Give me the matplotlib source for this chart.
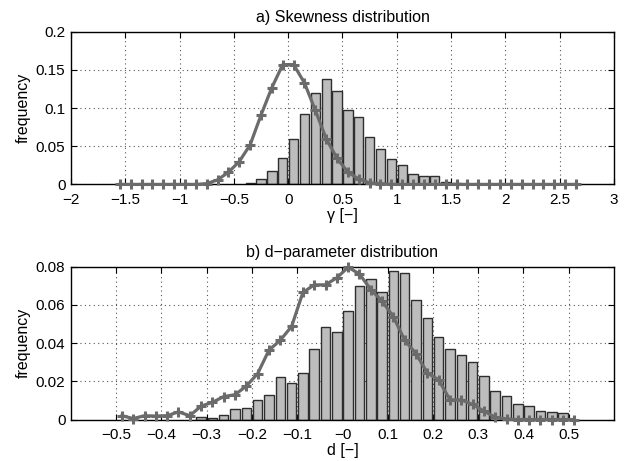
import matplotlib
matplotlib.use('Agg')
import matplotlib.pyplot as plt
import numpy as np
from matplotlib.ticker import FuncFormatter

plt.rcParams['font.family'] = ['Liberation Sans', 'DejaVu Sans']
plt.rcParams['font.size'] = 11

# a) skewness
skew_bar_x = [-0.35, -0.25, -0.15, -0.05, 0.05, 0.15, 0.25, 0.35, 0.45, 0.55,
              0.65, 0.75, 0.85, 0.95, 1.05, 1.15, 1.25, 1.35, 1.45, 1.55]
skew_bar_y = [0.002, 0.0066, 0.018, 0.0345, 0.0595, 0.092, 0.120, 0.138, 0.122, 0.098,
              0.088, 0.0625, 0.047, 0.033, 0.025, 0.013, 0.0114, 0.0114, 0.0026, 0.002]
skew_line_x = [round(-1.55 + 0.1 * i, 2) for i in range(43)]
skew_line_y = [0, 0, 0, 0, 0, 0, 0, 0,
               0.001, 0.006, 0.016, 0.030, 0.052, 0.091, 0.127, 0.157, 0.157,
               0.133, 0.097, 0.060, 0.034, 0.016, 0.007, 0.002, 0.001,
               0, 0, 0, 0, 0, 0, 0, 0, 0, 0, 0, 0, 0, 0, 0, 0, 0, 0]

# b) d-parameter
d_bar_x = [round(-0.3125 + 0.025 * i, 4) for i in range(33)]
d_bar_y = [0.0014, 0.0010, 0.0023, 0.0056, 0.0059, 0.0102, 0.0126, 0.0224, 0.0192, 0.0243,
           0.0371, 0.0482, 0.0460, 0.0570, 0.0699, 0.0734, 0.0665, 0.0778, 0.0765, 0.0624,
           0.0529, 0.0431, 0.0371, 0.0340, 0.0299, 0.0228, 0.0151, 0.0122, 0.0081, 0.0071,
           0.0046, 0.0039, 0.0032]
d_line_x = [round(-0.4875 + 0.025 * i, 4) for i in range(41)]
d_line_y = [0.002, 0.0005, 0.002, 0.0018, 0.002, 0.004, 0.002, 0.007, 0.009, 0.012,
            0.013, 0.0175, 0.024, 0.0363, 0.0415, 0.0487, 0.0665, 0.0705, 0.0705, 0.0742,
            0.0797, 0.0762, 0.068, 0.062, 0.0538, 0.0415, 0.0345, 0.0243, 0.0208, 0.0103,
            0.0103, 0.0079, 0.0044, 0.0012, 0.0003, 0, 0, 0, 0, 0, 0]

bar_face = '#bdbdbd'
bar_edge = '#2e2e2e'
line_col = '#6b6b6b'


def fmt(v, pos):
    s = '%g' % round(v, 4)
    return s.replace('-', '\u2212')


def style(ax):
    ax.set_axisbelow(True)
    ax.grid(True, linestyle=(0, (1, 3)), color='#555555', linewidth=0.8)
    ax.tick_params(direction='in', top=True, right=True, length=4, width=0.8,
                   labelsize=11)
    ax.tick_params(axis='x', pad=6)
    ax.tick_params(axis='y', pad=4)
    for s in ax.spines.values():
        s.set_linewidth(1.0)
    ax.xaxis.set_major_formatter(FuncFormatter(fmt))
    ax.yaxis.set_major_formatter(FuncFormatter(fmt))


fig = plt.figure(figsize=(6.26, 4.61), dpi=100)
ax1 = fig.add_axes([0.1134, 0.600, 0.8674, 0.331])
ax2 = fig.add_axes([0.1134, 0.090, 0.8674, 0.3315])

ax1.bar(skew_bar_x, skew_bar_y, width=0.085, color=bar_face, edgecolor=bar_edge, linewidth=1.0, zorder=2)
ax1.plot(skew_line_x, skew_line_y, '-+', color=line_col, linewidth=2.3,
         markersize=7, markeredgewidth=2.2, zorder=3, clip_on=False)
ax1.set_xlim(-2, 3)
ax1.set_ylim(0, 0.2)
ax1.set_xticks(np.arange(-2, 3.01, 0.5))
ax1.set_yticks([0, 0.05, 0.1, 0.15, 0.2])
style(ax1)
ax1.set_title('a) Skewness distribution', fontsize=11.5, pad=7)
ax1.set_xlabel('\u03b3 [\u2212]', fontsize=11.5, labelpad=1)
ax1.set_ylabel('frequency', fontsize=11.5, labelpad=4)

ax2.bar(d_bar_x, d_bar_y, width=0.021, color=bar_face, edgecolor=bar_edge, linewidth=1.0, zorder=2)
ax2.plot(d_line_x, d_line_y, '-+', color=line_col, linewidth=2.3,
         markersize=7, markeredgewidth=2.2, zorder=3, clip_on=False)
ax2.set_xlim(-0.6, 0.6)
ax2.set_ylim(0, 0.08)
ax2.set_xticks(np.arange(-0.5, 0.501, 0.1))
ax2.set_yticks([0, 0.02, 0.04, 0.06, 0.08])
style(ax2)
ax2.set_title('b) d\u2212parameter distribution', fontsize=11.5, pad=7)
ax2.set_xlabel('d [\u2212]', fontsize=11.5, labelpad=1)
ax2.set_ylabel('frequency', fontsize=11.5, labelpad=4)

fig.savefig('out.png', dpi=100)
